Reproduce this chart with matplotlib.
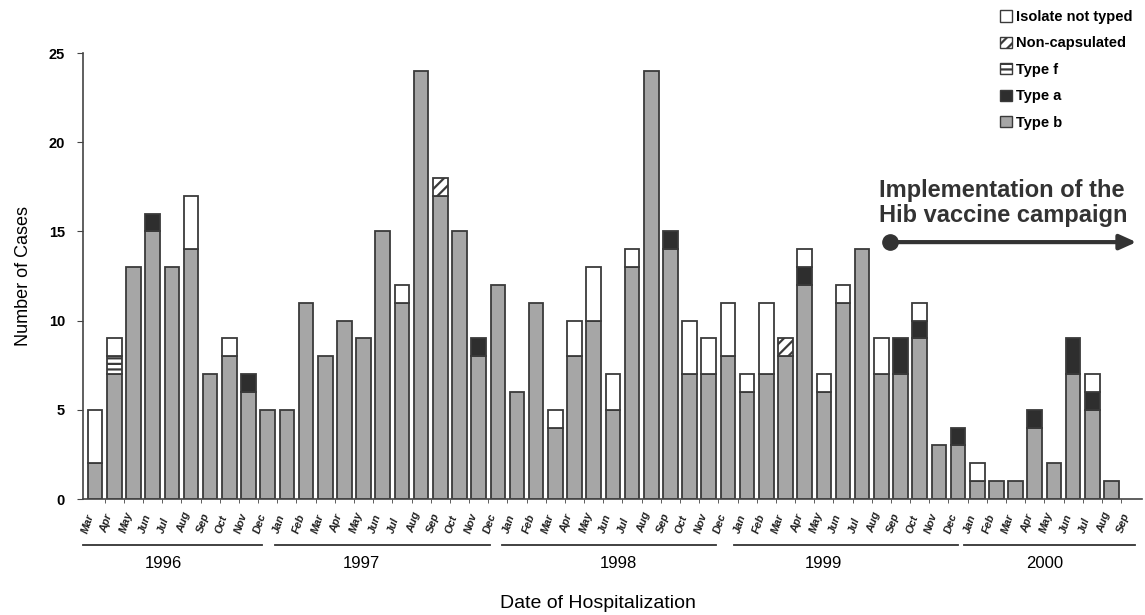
import numpy as np
import matplotlib.pyplot as plt
from matplotlib.patches import Patch

plt.rcParams['font.family'] = ['Liberation Sans', 'DejaVu Sans']
plt.rcParams['hatch.linewidth'] = 1.6

# months from Mar 1996 to Sep 2000
months = ['Mar', 'Apr', 'May', 'Jun', 'Jul', 'Aug', 'Sep', 'Oct', 'Nov', 'Dec',
          'Jan', 'Feb', 'Mar', 'Apr', 'May', 'Jun', 'Jul', 'Aug', 'Sep', 'Oct', 'Nov', 'Dec',
          'Jan', 'Feb', 'Mar', 'Apr', 'May', 'Jun', 'Jul', 'Aug', 'Sep', 'Oct', 'Nov', 'Dec',
          'Jan', 'Feb', 'Mar', 'Apr', 'May', 'Jun', 'Jul', 'Aug', 'Sep', 'Oct', 'Nov', 'Dec',
          'Jan', 'Feb', 'Mar', 'Apr', 'May', 'Jun', 'Jul', 'Aug', 'Sep']

type_b = [2, 7, 13, 15, 13, 14, 7, 8, 6, 5,
          5, 11, 8, 10, 9, 15, 11, 24, 17, 15, 8, 12,
          6, 11, 4, 8, 10, 5, 13, 24, 14, 7, 7, 8,
          6, 7, 8, 12, 6, 11, 14, 7, 7, 9, 3, 3,
          1, 1, 1, 4, 2, 7, 5, 1, 0]
type_a = [0, 0, 0, 1, 0, 0, 0, 0, 1, 0,
          0, 0, 0, 0, 0, 0, 0, 0, 0, 0, 1, 0,
          0, 0, 0, 0, 0, 0, 0, 0, 1, 0, 0, 0,
          0, 0, 0, 1, 0, 0, 0, 0, 2, 1, 0, 1,
          0, 0, 0, 1, 0, 2, 1, 0, 0]
type_f = [0, 1, 0, 0, 0, 0, 0, 0, 0, 0,
          0, 0, 0, 0, 0, 0, 0, 0, 0, 0, 0, 0,
          0, 0, 0, 0, 0, 0, 0, 0, 0, 0, 0, 0,
          0, 0, 0, 0, 0, 0, 0, 0, 0, 0, 0, 0,
          0, 0, 0, 0, 0, 0, 0, 0, 0]
non_caps = [0, 0, 0, 0, 0, 0, 0, 0, 0, 0,
            0, 0, 0, 0, 0, 0, 0, 0, 1, 0, 0, 0,
            0, 0, 0, 0, 0, 0, 0, 0, 0, 0, 0, 0,
            0, 0, 1, 0, 0, 0, 0, 0, 0, 0, 0, 0,
            0, 0, 0, 0, 0, 0, 0, 0, 0]
not_typed = [3, 1, 0, 0, 0, 3, 0, 1, 0, 0,
             0, 0, 0, 0, 0, 0, 1, 0, 0, 0, 0, 0,
             0, 0, 1, 2, 3, 2, 1, 0, 0, 3, 2, 3,
             1, 4, 0, 1, 1, 1, 0, 2, 0, 1, 0, 0,
             1, 0, 0, 0, 0, 0, 1, 0, 0]

years = ['1996', '1997', '1998', '1999', '2000']
year_lines = [(-0.65, 8.7), (9.4, 20.6), (21.2, 32.4), (33.3, 45.0), (45.3, 54.25)]
year_label_x = [3.55, 13.9, 27.3, 38.0, 49.5]

edge = '#3a3a3a'
grey = '#a6a6a6'
dark = '#2e2e2e'

x = np.arange(len(months))
w = 0.76

fig = plt.figure(figsize=(11.45, 6.15), dpi=100)
ax = fig.add_axes([0.0725, 0.1886, 0.925, 0.7252])

b = np.array(type_b)
a = np.array(type_a)
f = np.array(type_f)
n = np.array(non_caps)
u = np.array(not_typed)

def draw(vals, bottom, **kw):
    m = vals > 0
    ax.bar(x[m], vals[m], w, bottom=bottom[m], edgecolor=edge, linewidth=1.3, **kw)

draw(b, np.zeros_like(b), color=grey)
draw(a, b, color=dark)
draw(f, b + a, color='white', hatch='---')
draw(n, b + a + f, color='white', hatch='///')
draw(u, b + a + f + n, color='white')

ax.set_ylim(0, 25)
ax.set_xlim(-0.63, 54.6)
ax.spines['top'].set_visible(False)
ax.spines['right'].set_visible(False)
for s in ['left', 'bottom']:
    ax.spines[s].set_color('#444444')
    ax.spines[s].set_linewidth(1.2)

ax.set_yticks([0, 5, 10, 15, 20, 25])
ax.set_yticklabels(['0', '5', '10', '15', '20', '25'], fontweight='bold', fontsize=10.5)
ax.tick_params(axis='y', length=4, color='#444444', pad=9)

# month labels: bottom-aligned, slanted
ax.set_xticks([])
ax.set_xticks(x[:-1] + 0.5, minor=True)
ax.tick_params(axis='x', which='minor', length=3, color='#444444', labelbottom=False)
for xi, mo in zip(x, months):
    ax.text(xi - 0.55, -1.9, mo, rotation=72, rotation_mode='anchor', ha='left',
            va='center', fontsize=8, fontweight='bold', style='italic', color='#222222',
            clip_on=False)

ax.set_ylabel('Number of Cases', fontsize=13, labelpad=12)

for (x0, x1), yr, xl in zip(year_lines, years, year_label_x):
    ax.plot([x0, x1], [-2.6, -2.6], color='#333333', lw=1.3, clip_on=False)
    ax.text(xl, -3.6, yr, ha='center', va='center', fontsize=12)

ax.text(26.2, -5.85, 'Date of Hospitalization', ha='center', va='center', fontsize=14)

# vaccine campaign annotation
ax.text(40.9, 16.6, 'Implementation of the\nHib vaccine campaign', fontsize=17,
        fontweight='bold', color='#333333', ha='left', va='center', linespacing=1.15)
ax.annotate('', xy=(54.3, 14.4), xytext=(41.45, 14.4),
            arrowprops=dict(arrowstyle='-|>,head_length=1.0,head_width=0.45',
                            color='#333333', lw=3, shrinkA=0, shrinkB=0))
ax.plot([41.45], [14.4], 'o', color='#333333', markersize=11, clip_on=False)

handles = [Patch(facecolor='white', edgecolor=edge, label='Isolate not typed'),
           Patch(facecolor='white', edgecolor=edge, hatch='///', label='Non-capsulated'),
           Patch(facecolor='white', edgecolor=edge, hatch='---', label='Type f'),
           Patch(facecolor=dark, edgecolor=edge, label='Type a'),
           Patch(facecolor=grey, edgecolor=edge, label='Type b')]
leg = fig.legend(handles=handles, loc='upper left', bbox_to_anchor=(0.862, 1.005),
                 frameon=False, handlelength=0.8, handleheight=0.8, handletextpad=0.3,
                 labelspacing=0.85, prop={'weight': 'bold', 'size': 10.5})

fig.savefig('out.png', dpi=100)
